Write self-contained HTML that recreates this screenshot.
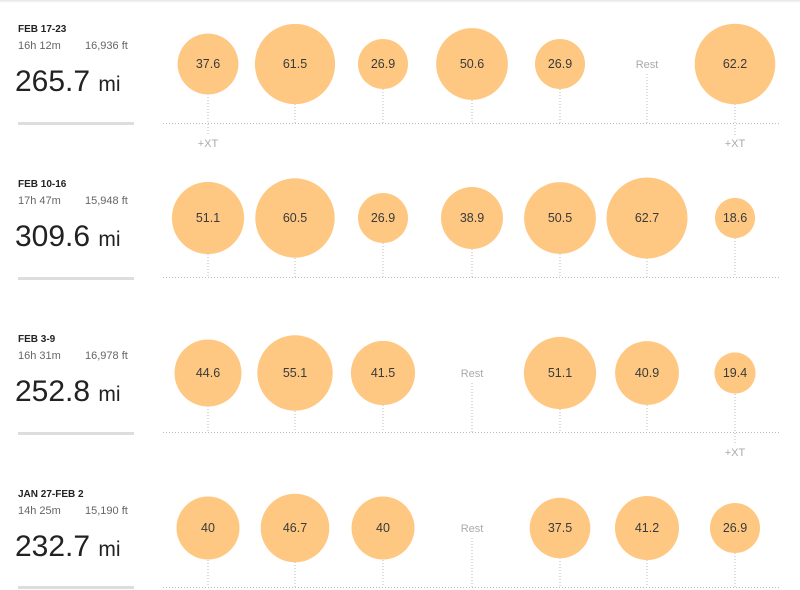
<!DOCTYPE html>
<html><head><meta charset="utf-8"><style>
body{margin:0;width:800px;height:590px;background:#fff;overflow:hidden;font-family:"Liberation Sans",sans-serif}
.top{position:absolute;left:0;top:0;width:800px;height:3px;background:linear-gradient(#e4e4e4,#fff)}
svg{position:absolute;left:0;top:0}
.c{fill:#fec882}
.v{font-size:12.5px;fill:#3a3a3a;text-anchor:middle}
.r{font-size:11px;fill:#aaa;text-anchor:middle}
.s{stroke:#bbb;stroke-width:1;stroke-dasharray:1 2}
.d{font-size:10px;font-weight:bold;fill:#222}
.m{font-size:11px;fill:#666}
.b{font-size:30px;fill:#222}
.u{font-size:21px}
</style></head><body><div class="top"></div>
<svg width="800" height="590">
<!-- row 1 -->
<g>
<text class="d" x="18" y="32">FEB 17-23</text>
<text class="m" x="18" y="49">16h 12m</text><text class="m" x="85" y="49">16,936 ft</text>
<text class="b" x="15" y="91">265.7 <tspan class="u">mi</tspan></text>
<rect x="18" y="122" width="116" height="3" fill="#ddd"/>
<line class="s" x1="163" y1="123.5" x2="779" y2="123.5"/>
<line class="s" x1="208" y1="94" x2="208" y2="135"/><circle class="c" cx="208" cy="64" r="30.4"/><text class="v" x="208" y="68">37.6</text><text class="r" x="208" y="147">+XT</text>
<line class="s" x1="295" y1="104" x2="295" y2="123"/><circle class="c" cx="295" cy="64" r="40.1"/><text class="v" x="295" y="68">61.5</text>
<line class="s" x1="383" y1="89" x2="383" y2="123"/><circle class="c" cx="383" cy="64" r="25"/><text class="v" x="383" y="68">26.9</text>
<line class="s" x1="472" y1="100" x2="472" y2="123"/><circle class="c" cx="472" cy="64" r="35.9"/><text class="v" x="472" y="68">50.6</text>
<line class="s" x1="560" y1="89" x2="560" y2="123"/><circle class="c" cx="560" cy="64" r="25"/><text class="v" x="560" y="68">26.9</text>
<line class="s" x1="647" y1="74" x2="647" y2="123"/><text class="r" x="647" y="68">Rest</text>
<line class="s" x1="735" y1="104" x2="735" y2="135"/><circle class="c" cx="735" cy="64" r="40.3"/><text class="v" x="735" y="68">62.2</text><text class="r" x="735" y="147">+XT</text>
</g>
<!-- row 2 -->
<g transform="translate(0,155)">
<text class="d" x="18" y="32">FEB 10-16</text>
<text class="m" x="18" y="49">17h 47m</text><text class="m" x="85" y="49">15,948 ft</text>
<text class="b" x="15" y="91">309.6 <tspan class="u">mi</tspan></text>
<rect x="18" y="122" width="116" height="3" fill="#ddd"/>
<line class="s" x1="163" y1="122.5" x2="779" y2="122.5"/>
<line class="s" x1="208" y1="99" x2="208" y2="122"/><circle class="c" cx="208" cy="63" r="36.1"/><text class="v" x="208" y="67">51.1</text>
<line class="s" x1="295" y1="103" x2="295" y2="122"/><circle class="c" cx="295" cy="63" r="39.7"/><text class="v" x="295" y="67">60.5</text>
<line class="s" x1="383" y1="88" x2="383" y2="122"/><circle class="c" cx="383" cy="63" r="25"/><text class="v" x="383" y="67">26.9</text>
<line class="s" x1="472" y1="94" x2="472" y2="122"/><circle class="c" cx="472" cy="63" r="31"/><text class="v" x="472" y="67">38.9</text>
<line class="s" x1="560" y1="99" x2="560" y2="122"/><circle class="c" cx="560" cy="63" r="35.9"/><text class="v" x="560" y="67">50.5</text>
<line class="s" x1="647" y1="103" x2="647" y2="122"/><circle class="c" cx="647" cy="63" r="40.5"/><text class="v" x="647" y="67">62.7</text>
<line class="s" x1="735" y1="83" x2="735" y2="122"/><circle class="c" cx="735" cy="63" r="20.1"/><text class="v" x="735" y="67">18.6</text>
</g>
<!-- row 3 -->
<g transform="translate(0,310)">
<text class="d" x="18" y="32">FEB 3-9</text>
<text class="m" x="18" y="49">16h 31m</text><text class="m" x="85" y="49">16,978 ft</text>
<text class="b" x="15" y="91">252.8 <tspan class="u">mi</tspan></text>
<rect x="18" y="122" width="116" height="3" fill="#ddd"/>
<line class="s" x1="163" y1="122.5" x2="779" y2="122.5"/>
<line class="s" x1="208" y1="96" x2="208" y2="122"/><circle class="c" cx="208" cy="63" r="33.5"/><text class="v" x="208" y="67">44.6</text>
<line class="s" x1="295" y1="101" x2="295" y2="122"/><circle class="c" cx="295" cy="63" r="37.7"/><text class="v" x="295" y="67">55.1</text>
<line class="s" x1="383" y1="95" x2="383" y2="122"/><circle class="c" cx="383" cy="63" r="32.1"/><text class="v" x="383" y="67">41.5</text>
<line class="s" x1="472" y1="73" x2="472" y2="122"/><text class="r" x="472" y="67">Rest</text>
<line class="s" x1="560" y1="99" x2="560" y2="122"/><circle class="c" cx="560" cy="63" r="36.1"/><text class="v" x="560" y="67">51.1</text>
<line class="s" x1="647" y1="95" x2="647" y2="122"/><circle class="c" cx="647" cy="63" r="31.9"/><text class="v" x="647" y="67">40.9</text>
<line class="s" x1="735" y1="84" x2="735" y2="134"/><circle class="c" cx="735" cy="63" r="20.6"/><text class="v" x="735" y="67">19.4</text><text class="r" x="735" y="146">+XT</text>
</g>
<!-- row 4 -->
<g transform="translate(0,465)">
<text class="d" x="18" y="32">JAN 27-FEB 2</text>
<text class="m" x="18" y="49">14h 25m</text><text class="m" x="85" y="49">15,190 ft</text>
<text class="b" x="15" y="91">232.7 <tspan class="u">mi</tspan></text>
<rect x="18" y="121" width="116" height="3" fill="#ddd"/>
<line class="s" x1="163" y1="122.5" x2="779" y2="122.5"/>
<line class="s" x1="208" y1="95" x2="208" y2="122"/><circle class="c" cx="208" cy="63" r="31.5"/><text class="v" x="208" y="67">40</text>
<line class="s" x1="295" y1="97" x2="295" y2="122"/><circle class="c" cx="295" cy="63" r="34.3"/><text class="v" x="295" y="67">46.7</text>
<line class="s" x1="383" y1="95" x2="383" y2="122"/><circle class="c" cx="383" cy="63" r="31.5"/><text class="v" x="383" y="67">40</text>
<line class="s" x1="472" y1="73" x2="472" y2="122"/><text class="r" x="472" y="67">Rest</text>
<line class="s" x1="560" y1="93" x2="560" y2="122"/><circle class="c" cx="560" cy="63" r="30.3"/><text class="v" x="560" y="67">37.5</text>
<line class="s" x1="647" y1="95" x2="647" y2="122"/><circle class="c" cx="647" cy="63" r="32"/><text class="v" x="647" y="67">41.2</text>
<line class="s" x1="735" y1="88" x2="735" y2="122"/><circle class="c" cx="735" cy="63" r="25"/><text class="v" x="735" y="67">26.9</text>
</g>
</svg></body></html>
